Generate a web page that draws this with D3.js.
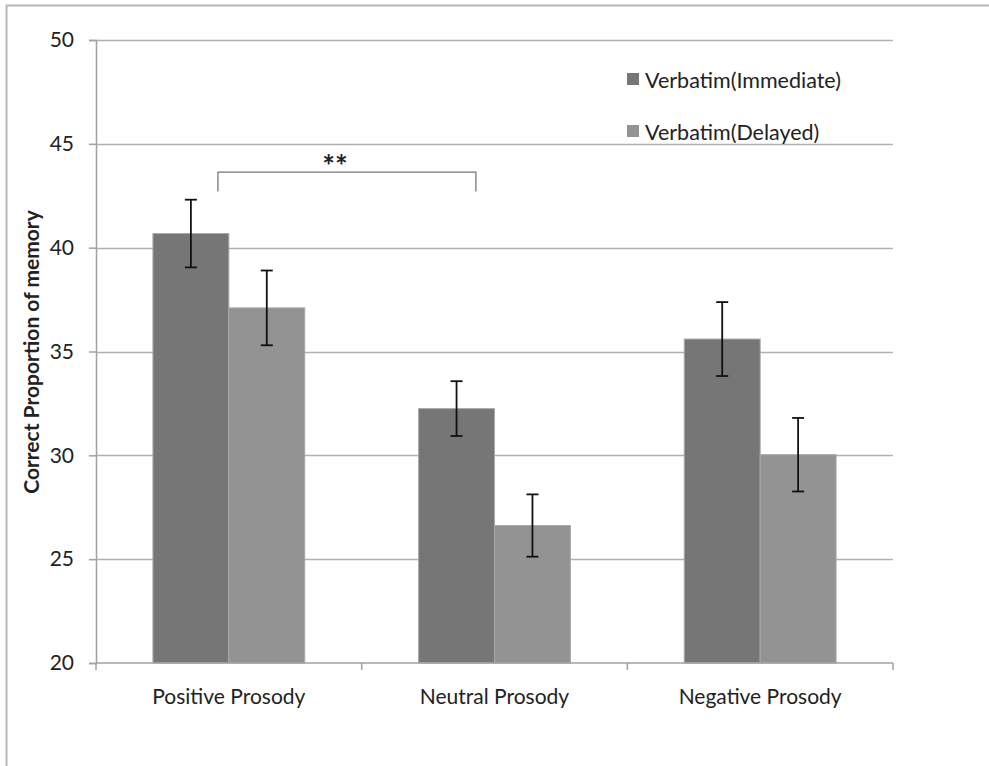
<!DOCTYPE html>
<html>
<head>
<meta charset="utf-8">
<script src="https://cdn.jsdelivr.net/npm/d3@7"></script>
<style>
	body { margin: 0; background: white; }
	text { font-family: Lato, "Open Sans", sans-serif; fill: #222; }
</style>
</head>
<body>
<div id="grafic"></div>
<script>
// dades
var categories = ['Positive Prosody', 'Neutral Prosody', 'Negative Prosody'];
var series = ['Verbatim(Immediate)', 'Verbatim(Delayed)'];
var immediate = [40.68, 32.25, 35.6];
var delayed = [37.1, 26.62, 30.03];
var errImmediate = [1.63, 1.32, 1.78];
var errDelayed = [1.8, 1.5, 1.77];
var yTicks = [20, 25, 30, 35, 40, 45, 50];
var signif = {de: 0, a: 1, nivell: 43.64, peu: 42.7, text: '**'};

var Amplada = 989, Alçada = 766;
var marge = {dalt: 40, dreta: 96, baix: 103, esquerra: 96};
var amplada = Amplada - marge.esquerra - marge.dreta,
	alçada = Alçada - marge.dalt - marge.baix;

var colors = ['#767676', '#939393'];

var plànol = d3.select('#grafic')
	.append('svg')
		.attr('width', Amplada)
		.attr('height', Alçada);

// marc
plànol.append('path')
	.attr('d', `M6.5,${Alçada} V5.5 H${Amplada}`)
	.attr('fill', 'none')
	.attr('stroke', '#b8b8b8')
	.attr('stroke-width', 2);

var llenç = plànol.append('g')
	.attr('transform', `translate(${marge.esquerra},${marge.dalt})`);

var x = d3.scaleBand()
	.domain(categories)
	.range([0, amplada])
	.paddingInner(0)
	.paddingOuter(0);

var y = d3.scaleLinear()
	.domain([20, 50])
	.range([alçada, 0]);

// ample de barra: buit 150%
var bw = x.bandwidth() / 3.5;
var buit = (x.bandwidth() - 2 * bw) / 2;

// graella
llenç.append('g')
	.selectAll('line')
	.data(yTicks.filter(d => d > 20))
	.enter()
	.append('line')
		.attr('x1', 0)
		.attr('x2', amplada)
		.attr('y1', d => Math.round(y(d)) + 0.5)
		.attr('y2', d => Math.round(y(d)) + 0.5)
		.attr('stroke', '#b0b0b0')
		.attr('stroke-width', 1.5);

// barres
var dades = categories.flatMap((c, i) => [
	{cat: c, s: 0, v: immediate[i], e: errImmediate[i]},
	{cat: c, s: 1, v: delayed[i], e: errDelayed[i]}
]);

llenç.append('g')
	.selectAll('rect')
	.data(dades)
	.enter()
	.append('rect')
		.attr('x', d => x(d.cat) + buit + d.s * bw)
		.attr('y', d => y(d.v))
		.attr('width', bw)
		.attr('height', d => alçada - y(d.v))
		.attr('fill', d => colors[d.s])
		.attr('stroke', '#a8a8a8')
		.attr('stroke-width', 1);

// barres d'error
var err = llenç.append('g')
	.attr('stroke', '#111')
	.attr('stroke-width', 1.8);
dades.forEach(function(d) {
	var cx = x(d.cat) + buit + d.s * bw + bw / 2;
	err.append('line')
		.attr('x1', cx).attr('x2', cx)
		.attr('y1', y(d.v + d.e)).attr('y2', y(d.v - d.e));
	[d.v + d.e, d.v - d.e].forEach(function(v) {
		err.append('line')
			.attr('x1', cx - 6).attr('x2', cx + 6)
			.attr('y1', y(v)).attr('y2', y(v));
	});
});

// eixos
var eixY = llenç.append('g')
	.call(d3.axisLeft(y).tickValues(yTicks).tickSize(7).tickPadding(15));
eixY.select('.domain').attr('stroke', '#a0a0a0').attr('stroke-width', 1.5);
eixY.selectAll('.tick line').attr('stroke', '#a0a0a0').attr('stroke-width', 1.5);
eixY.selectAll('.tick text')
	.attr('font-size', 21)
	.attr('fill', '#222')
	.style('font-family', 'Lato, sans-serif');

var eixX = llenç.append('g')
	.attr('transform', `translate(0,${alçada})`);
eixX.append('line')
	.attr('x1', 0).attr('x2', amplada)
	.attr('y1', 0).attr('y2', 0)
	.attr('stroke', '#a0a0a0').attr('stroke-width', 1.5);
eixX.selectAll('line.tk')
	.data([0, 1, 2, 3])
	.enter()
	.append('line')
		.attr('class', 'tk')
		.attr('x1', i => i * x.step()).attr('x2', i => i * x.step())
		.attr('y1', 0).attr('y2', 7)
		.attr('stroke', '#a0a0a0').attr('stroke-width', 1.5);
eixX.selectAll('text')
	.data(categories)
	.enter()
	.append('text')
		.attr('x', d => x(d) + x.bandwidth() / 2)
		.attr('y', 41)
		.attr('text-anchor', 'middle')
		.attr('font-size', 21)
		.text(d => d);

// títol Y
plànol.append('text')
	.attr('transform', `translate(39,352) rotate(-90)`)
	.attr('text-anchor', 'middle')
	.attr('font-size', 21)
	.attr('font-weight', 'bold')
	.text('Correct Proportion of memory');

// significació
var bx1 = x(categories[signif.de]) + x.bandwidth() * 0.459;
var bx2 = x(categories[signif.a]) + x.bandwidth() * 0.43;
llenç.append('path')
	.attr('d', `M${bx1},${y(signif.peu)} V${y(signif.nivell)} H${bx2} V${y(signif.peu)}`)
	.attr('fill', 'none')
	.attr('stroke', '#777')
	.attr('stroke-width', 1.3);
llenç.append('text')
	.attr('x', (bx1 + bx2) / 2 - 12)
	.attr('y', y(signif.nivell) + 5)
	.attr('text-anchor', 'middle')
	.attr('font-size', 30)
	.attr('font-weight', 'bold')
	.text(signif.text);

// llegenda
var llegenda = plànol.append('g')
	.selectAll('g')
	.data(series)
	.enter()
	.append('g')
		.attr('transform', (d, i) => `translate(627,${73 + i * 52})`);
llegenda.append('rect')
	.attr('width', 12).attr('height', 12)
	.attr('fill', (d, i) => colors[i]);
llegenda.append('text')
	.attr('x', 18)
	.attr('y', 15)
	.attr('font-size', 21.5)
	.text(d => d);
</script>
</body>
</html>
